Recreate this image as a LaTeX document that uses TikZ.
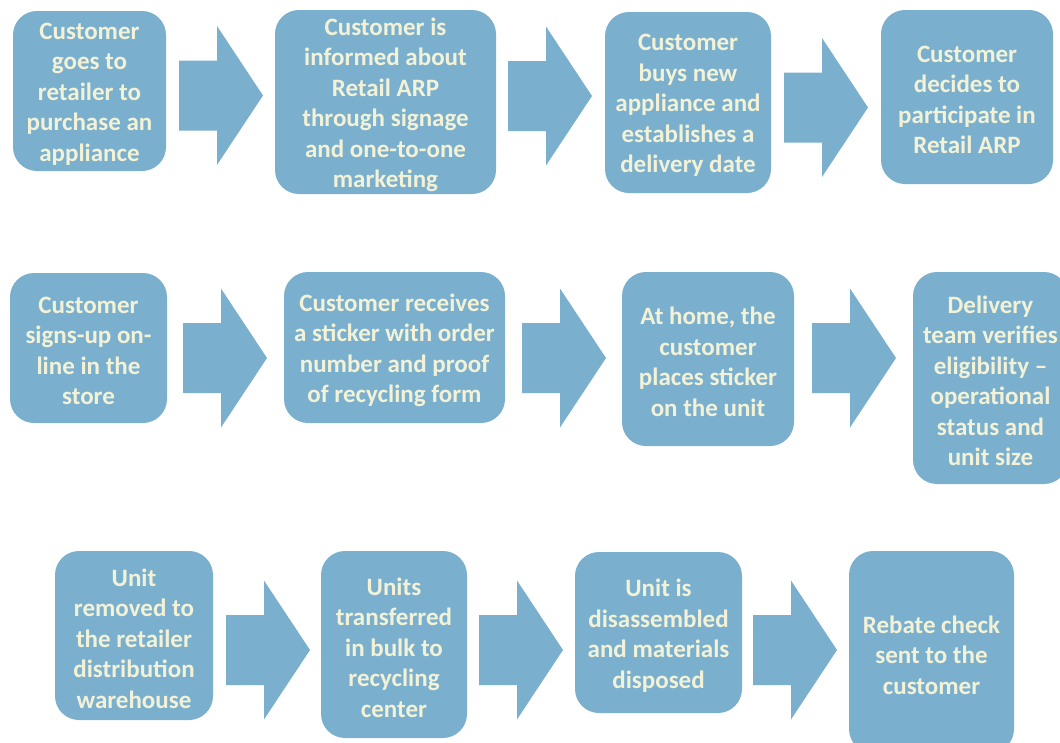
\documentclass[tikz,border=0pt]{standalone}
\usepackage{fontspec}
\setmainfont{Carlito}
\definecolor{boxblue}{HTML}{7AB0CE}
\definecolor{cream}{HTML}{F3F2D7}
\newcommand{\stepnode}[6]{%
  \node[stepbox, minimum width={#4pt-#2pt}, minimum height={#5pt-#3pt}] (#1) at ({(#2+#4)/2},{(#3+#5)/2}) {};
  \node[steptext] (#1t) at ([yshift=-3pt]#1.center) {#6};}
\begin{document}
\begin{tikzpicture}[x=1pt,y=-1pt,
  stepbox/.style={draw=none, fill=boxblue, rounded corners=24pt, inner sep=0pt},
  steptext/.style={text=cream, font=\fontsize{25}{30.5}\selectfont\bfseries,
    align=center, inner sep=0pt},
  pics/blockarrow/.style={code={
    \fill[boxblue] (0,-35) -- (38,-35) -- (38,-69.5) -- (84,0) -- (38,69.5) -- (38,35) -- (0,35) -- cycle;}}]
\useasboundingbox (0,0) rectangle (1060,742);
% row 1
\stepnode{b1}{13}{11}{166}{171}{Customer\\goes to\\retailer to\\purchase an\\appliance}
\stepnode{b2}{275}{10}{496}{194}{Customer is\\informed about\\Retail ARP\\through signage\\and one-to-one\\marketing}
\stepnode{b3}{605}{12}{771}{193}{Customer\\buys new\\appliance and\\establishes a\\delivery date}
\stepnode{b4}{881}{10}{1053}{184}{Customer\\decides to\\participate in\\Retail ARP}
\pic at (179,95.5) {blockarrow};
\pic at (508,96) {blockarrow};
\pic at (784,107.5) {blockarrow};
% row 2
\stepnode{b5}{10}{273}{167}{423}{Customer\\signs-up on-\\line in the\\store}
\stepnode{b6}{284}{272}{505}{423}{Customer receives\\a sticker with order\\number and proof\\of recycling form}
\stepnode{b7}{622}{272}{794}{446}{At home, the\\customer\\places sticker\\on the unit}
\stepnode{b8}{913}{272}{1068}{484}{Delivery\\team verifies\\eligibility –\\operational\\status and\\unit size}
\pic at (183,358) {blockarrow};
\pic at (522,358) {blockarrow};
\pic at (812,358) {blockarrow};
% row 3
\stepnode{b9}{55}{551}{213}{720}{Unit\\removed to\\the retailer\\distribution\\warehouse}
\stepnode{b10}{321}{551}{467}{738}{Units\\transferred\\in bulk to\\recycling\\center}
\stepnode{b11}{575}{552}{742}{713}{Unit is\\disassembled\\and materials\\disposed}
\stepnode{b12}{849}{551}{1014}{753}{Rebate check\\sent to the\\customer}
\pic at (226,650) {blockarrow};
\pic at (479,650) {blockarrow};
\pic at (753,650) {blockarrow};
\end{tikzpicture}
\end{document}
